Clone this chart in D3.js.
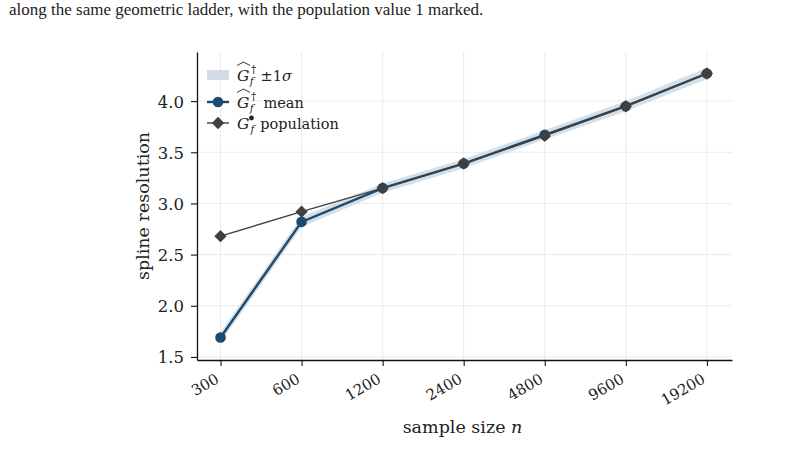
<!DOCTYPE html>
<html>
<head>
<meta charset="utf-8">
<script src="https://cdn.jsdelivr.net/npm/d3@7"></script>
<style>
  body { margin: 0; background: #fff; }
  svg text { font-family: "DejaVu Serif", serif; fill: #222; }
  .caption { font-family: "Liberation Serif", "Times New Roman", serif; }
</style>
</head>
<body>
<svg id="chart" width="798" height="465"></svg>
<script>
// sample sizes on the geometric ladder
const sampleSizes = [300, 600, 1200, 2400, 4800, 9600, 19200];
// estimated spline resolution, mean over replicates
const meanValues = [1.69, 2.82, 3.15, 3.39, 3.67, 3.95, 4.27];
// one standard deviation of the estimate
const sdValues = [0.05, 0.05, 0.045, 0.045, 0.045, 0.05, 0.055];
// population value at each sample size
const popValues = [2.68, 2.92, 3.15, 3.39, 3.66, 3.95, 4.27];
const yTicks = [1.5, 2.0, 2.5, 3.0, 3.5, 4.0];

const svg = d3.select("#chart");
const margin = {left: 197, right: 66, top: 52, bottom: 105};
const width = 798 - margin.left - margin.right;
const height = 465 - margin.top - margin.bottom;

const blue = "#1b4b6e";
const gray = "#404040";
const bandColor = "#d0dbe5";

// caption fragment above the figure
svg.append("text").attr("class", "caption")
  .attr("x", 9).attr("y", 15)
  .style("font-size", "17px")
  .text("along the same geometric ladder, with the population value 1 marked.");

const g = svg.append("g").attr("transform", `translate(${margin.left},${margin.top})`);

const x = d3.scaleLinear().domain([-0.29, sampleSizes.length - 1 + 0.31]).range([0, width]);
const y = d3.scaleLinear().domain([1.47, 4.48]).range([height, 0]);

// grid
g.append("g").selectAll("line").data(yTicks).join("line")
  .attr("x1", 0).attr("x2", width)
  .attr("y1", d => y(d)).attr("y2", d => y(d))
  .attr("stroke", "#ebebeb").attr("stroke-width", 1);
g.append("g").selectAll("line").data(sampleSizes).join("line")
  .attr("x1", (d, i) => x(i)).attr("x2", (d, i) => x(i))
  .attr("y1", 0).attr("y2", height)
  .attr("stroke", "#ebebeb").attr("stroke-width", 1);

// ±1σ band
const area = d3.area()
  .x((d, i) => x(i))
  .y0((d, i) => y(meanValues[i] - sdValues[i]))
  .y1((d, i) => y(meanValues[i] + sdValues[i]));
g.append("path").datum(meanValues).attr("d", area)
  .attr("fill", bandColor).attr("opacity", 0.9);

const line = d3.line().x((d, i) => x(i)).y(d => y(d));

// mean
g.append("path").datum(meanValues).attr("d", line)
  .attr("fill", "none").attr("stroke", blue).attr("stroke-width", 2.4);
g.append("g").selectAll("circle").data(meanValues).join("circle")
  .attr("cx", (d, i) => x(i)).attr("cy", d => y(d)).attr("r", 5.3)
  .attr("fill", blue);

// population
const diamond = d3.symbol().type(d3.symbolSquare).size(76);
g.append("path").datum(popValues).attr("d", line)
  .attr("fill", "none").attr("stroke", gray).attr("stroke-width", 1.4);
g.append("g").selectAll("path").data(popValues).join("path")
  .attr("d", diamond)
  .attr("transform", (d, i) => `translate(${x(i)},${y(d)}) rotate(45)`)
  .attr("fill", gray);

// axes
const xAxis = g.append("g").attr("transform", `translate(0,${height})`)
  .call(d3.axisBottom(x).tickValues(d3.range(sampleSizes.length))
    .tickFormat(i => sampleSizes[i]).tickSize(6).tickSizeOuter(0));
xAxis.select(".domain").attr("stroke", "#111").attr("stroke-width", 1.3);
xAxis.selectAll(".tick line").attr("stroke", "#111").attr("stroke-width", 1.1);
xAxis.selectAll("text")
  .style("font-size", "15px").style("font-family", "DejaVu Serif")
  .attr("fill", "#222")
  .attr("text-anchor", "end")
  .attr("dy", null).attr("y", 0)
  .attr("transform", "translate(-1,22) rotate(-30)");

const yAxis = g.append("g")
  .call(d3.axisLeft(y).tickValues(yTicks).tickFormat(d3.format(".1f")).tickSize(6).tickSizeOuter(0));
yAxis.select(".domain").attr("stroke", "#111").attr("stroke-width", 1.3);
yAxis.selectAll(".tick line").attr("stroke", "#111").attr("stroke-width", 1.1);
yAxis.selectAll("text")
  .style("font-size", "16.5px").style("font-family", "DejaVu Serif")
  .attr("fill", "#222").attr("x", -13).attr("dy", "0.36em");

// axis labels
const xl = svg.append("text").attr("x", margin.left + width / 2 - 2).attr("y", 433)
  .attr("text-anchor", "middle").style("font-size", "17.5px");
xl.append("tspan").text("sample size ");
xl.append("tspan").style("font-style", "italic").text("n");

svg.append("text")
  .attr("transform", `translate(149,${margin.top + height / 2}) rotate(-90)`)
  .attr("text-anchor", "middle").style("font-size", "17.5px")
  .text("spline resolution");

// legend
const leg = svg.append("g").attr("transform", "translate(207,75)");
const rowH = 24;
function gLabel(sel, sup, hat) {
  const t = sel.append("text").attr("x", 30).attr("y", 5.5).style("font-size", "15.5px");
  t.append("tspan").style("font-style", "italic").text("G");
  if (sup) {
    t.append("tspan").attr("dx", 1.5).attr("dy", -7.5).style("font-size", "10.5px").text(sup);
    t.append("tspan").attr("dx", -6.5).attr("dy", 12).style("font-size", "10.5px").style("font-style", "italic").text("f");
  } else {
    // bullet superscript drawn as a dot
    sel.append("circle").attr("cx", 44.5).attr("cy", -5).attr("r", 2.4).attr("fill", "#222");
    t.append("tspan").attr("dx", 1).attr("dy", 4.5).style("font-size", "10.5px").style("font-style", "italic").text("f");
  }
  if (hat) {
    sel.append("path").attr("d", "M30,-9.5 L36.5,-13 L43,-9.5")
      .attr("fill", "none").attr("stroke", "#222").attr("stroke-width", 0.9);
  }
  return t;
}
const r0 = leg.append("g");
r0.append("rect").attr("x", 0).attr("y", -5).attr("width", 22).attr("height", 10).attr("fill", bandColor);
gLabel(r0, "†", true).append("tspan").attr("dy", -4.5).attr("dx", 7).style("font-size", "14.5px").text("±1");
r0.select("text").append("tspan").style("font-style", "italic").style("font-size", "14.5px").text("σ");

const r1 = leg.append("g").attr("transform", `translate(0,${rowH + 3})`);
r1.append("line").attr("x1", 0).attr("x2", 22).attr("stroke", blue).attr("stroke-width", 2.4);
r1.append("circle").attr("cx", 11).attr("r", 5.3).attr("fill", blue);
gLabel(r1, "†", true).append("tspan").attr("dy", -4.5).attr("dx", 10).style("font-size", "14.5px").text("mean");

const r2 = leg.append("g").attr("transform", `translate(0,${rowH * 2})`);
r2.append("line").attr("x1", 0).attr("x2", 22).attr("stroke", gray).attr("stroke-width", 1.4);
r2.append("path").attr("d", diamond).attr("transform", "translate(11,0) rotate(45)").attr("fill", gray);
gLabel(r2, null, false).append("tspan").attr("dy", -4.5).attr("dx", 6).style("font-size", "14.5px").text("population");
</script>
</body>
</html>
